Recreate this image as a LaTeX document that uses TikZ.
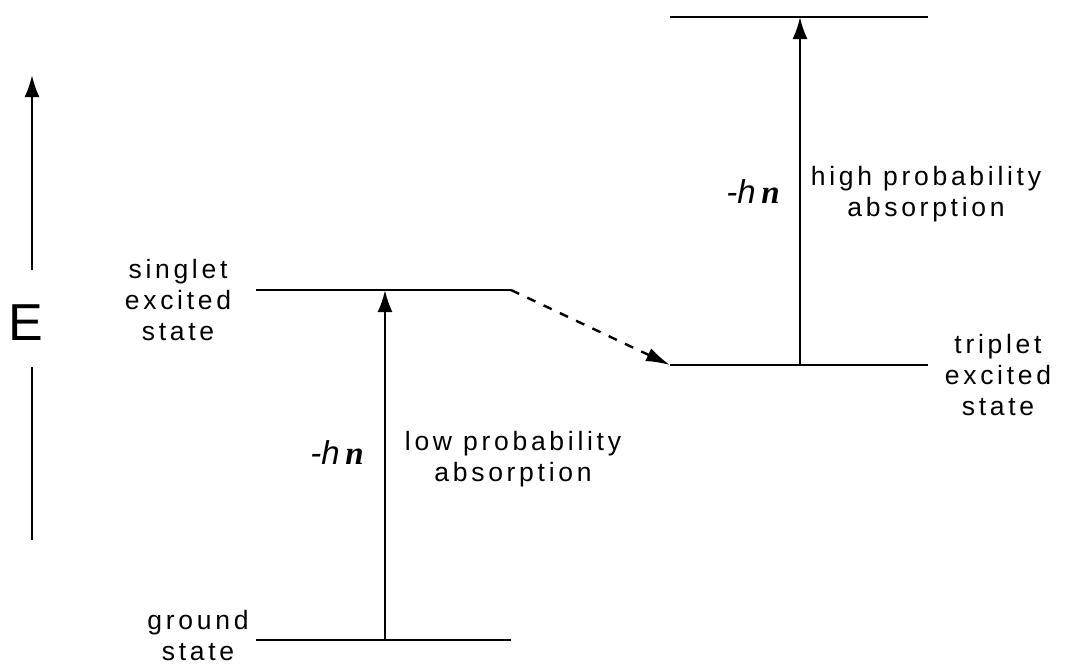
\documentclass[tikz,border=0pt]{standalone}
\usepackage{fontspec}
\setmainfont{Liberation Sans}
\newfontfamily\lsp[LetterSpace=14]{Liberation Sans}
\newfontfamily\serif{Liberation Serif}
\usetikzlibrary{arrows.meta}
\begin{document}
\begin{tikzpicture}[x=1pt,y=-1pt,
  level/.style={line width=2.4pt},
  uparrow/.style={line width=2.4pt,-{Latex[length=22pt,width=15pt]}},
  transfer/.style={line width=2.4pt,dash pattern=on 9pt off 9pt,-{Latex[length=24pt,width=14pt]}},
  lbl/.style={font=\lsp\fontsize{26.5}{31}\selectfont,align=center,inner sep=0pt},
  hnu/.style={font=\fontsize{33}{36}\selectfont,inner sep=0pt}]
\useasboundingbox (0,0) rectangle (1067,665);
% energy axis
\node[font=\fontsize{52}{56}\selectfont,inner sep=0pt] (E) at (26,323) {E};
\coordinate (eAtop) at (32,270);
\coordinate (eTip) at (32,75);
\coordinate (eBtop) at (32,367);
\coordinate (eBot) at (32,540);
\draw[uparrow] (eAtop) -- (eTip);
\draw[level] (eBtop) -- (eBot);
% levels
\coordinate (gL) at (256,640); \coordinate (gR) at (511,640);
\coordinate (sL) at (256,290); \coordinate (sR) at (511,290);
\coordinate (tL) at (670,365); \coordinate (tR) at (928,365);
\coordinate (hL) at (670,17);  \coordinate (hR) at (928,17);
\draw[level] (gL) -- (gR);
\draw[level] (sL) -- (sR);
\draw[level] (tL) -- (tR);
\draw[level] (hL) -- (hR);
% transitions
\coordinate (a1s) at (385,640); \coordinate (a1e) at (385,290);
\coordinate (a2s) at (800,365); \coordinate (a2e) at (800,17);
\draw[uparrow] (a1s) -- (a1e);
\draw[uparrow] (a2s) -- (a2e);
\draw[transfer] (sR) -- (tL);
% labels
\node[lbl] (singlet) at (178,300) {singlet\\excited\\state};
\node[lbl] (ground) at (198,636) {ground\\state};
\node[lbl] (triplet) at (998,375) {triplet\\excited\\state};
\node[lbl] (low) at (513,459) {low probability\\absorption};
\node[lbl] (high) at (926,194) {high probability\\absorption};
\node[hnu,anchor=base] (hn1) at (337,464) {\itshape -h\,{\serif\bfseries n}};
\node[hnu,anchor=base] (hn2) at (753,203) {\itshape -h\,{\serif\bfseries n}};
\end{tikzpicture}
\end{document}
